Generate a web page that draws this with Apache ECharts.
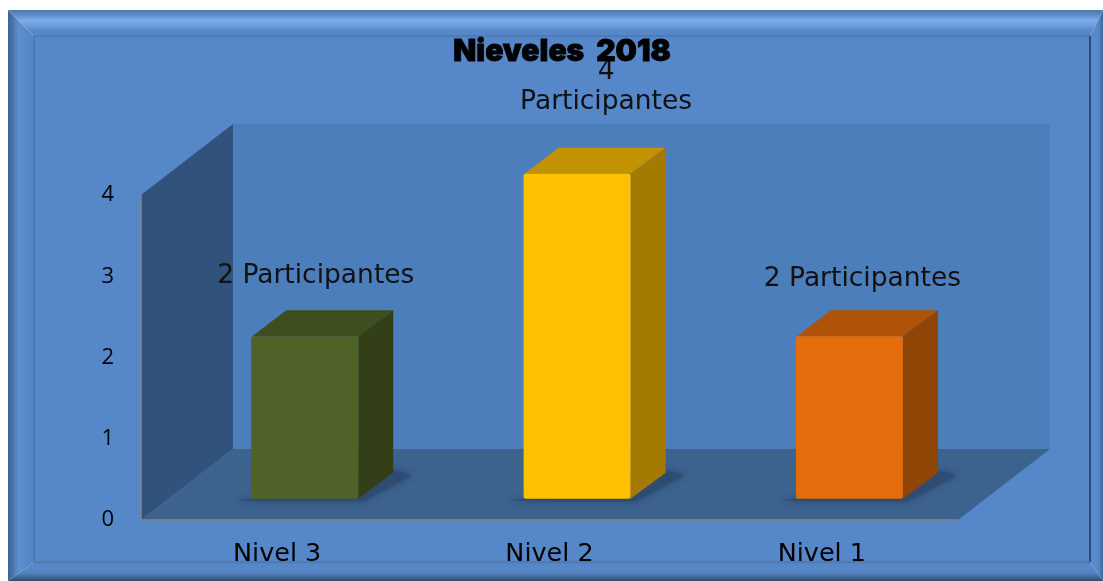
<!DOCTYPE html>
<html><head><meta charset="utf-8">
<style>html,body{margin:0;padding:0;background:#fff}#c{width:1103px;height:581px}</style>
<script src="https://cdn.jsdelivr.net/npm/echarts@6/dist/echarts.min.js"></script>
</head><body><div id="c"></div>
<script>
const categories = ['Nivel 3', 'Nivel 2', 'Nivel 1'];
const values = [2, 4, 2];
const valueTicks = [0, 1, 2, 3, 4];
const dataLabels = ['2 Participantes', '4\nParticipantes', '2 Participantes'];
const titleText = 'Nieveles  2018';
const frontColors = ['#4f6228', '#ffc000', '#e46c0a'];
const topColors = ['#3f4e1f', '#c29200', '#b05308'];
const sideColors = ['#333f17', '#a37b00', '#8f4506'];

const chart = echarts.init(document.getElementById('c'), null, {renderer: 'canvas'});
const DX = 92, DY = -71;            // full floor depth
const BAR_W = 107, BAR_F = 0.30;    // bar placement in depth
const LABEL_FONT = 'DejaVu Sans';
const labelOffsets = [[11, -60], [29, -87], [13, -57]];

function poly(points, fill, extra) {
  return Object.assign({type: 'polygon', shape: {points}, style: {fill}}, extra || {});
}
function walls(params, api) {
  const y0 = api.coord([0, 0])[1];
  const gs = params.coordSys;
  const x1 = gs.x + gs.width, yt = api.coord([0, 4])[1], xl = gs.x;
  return {type: 'group', silent: true, children: [
    poly([[xl, yt], [xl + DX, yt + DY], [xl + DX, y0 + DY], [xl, y0]], '#31527a'),
    poly([[xl + DX, yt + DY], [x1 + DX, yt + DY], [x1 + DX, y0 + DY], [xl + DX, y0 + DY]], '#4d7ebc'),
    poly([[xl, y0], [xl + DX, y0 + DY], [x1 + DX, y0 + DY], [x1, y0]], '#3c628e'),
    {type: 'line', shape: {x1: xl, y1: yt, x2: xl, y2: y0}, style: {stroke: '#868686', lineWidth: 1.5}},
    {type: 'line', shape: {x1: xl, y1: y0, x2: x1, y2: y0}, style: {stroke: '#868686', lineWidth: 1.5}}
  ]};
}
function bar3d(params, api) {
  const i = params.dataIndex;
  const cat = api.value(0), v = api.value(1);
  const base = api.coord([cat, 0]), top = api.coord([cat, v]);
  const fx = base[0] - BAR_W / 2 + DX * BAR_F, fy = DY * BAR_F;
  const l = fx, r = fx + BAR_W, b = base[1] + fy, t = top[1] + fy;
  const sx = 35, sy = -26;
  return {type: 'group', children: [
    poly([[l - 16, b + 2], [r + 4, b + 2], [r + sx + 18, b + sy + 2], [r + sx, b + sy - 1], [l, b]], '#2e4c72',
      {style: {fill: '#2e4c72', shadowBlur: 6, shadowColor: 'rgba(30,50,80,0.8)'}}),
    poly([[l + 1, t], [l + sx, t + sy], [r + sx, t + sy], [r, t]], topColors[i]),
    poly([[r, t], [r + sx, t + sy], [r + sx, b + sy], [r, b]], sideColors[i]),
    {type: 'rect', shape: {x: l, y: t, width: BAR_W, height: b - t, r: 2}, style: {fill: frontColors[i]}},
    {type: 'text', z2: 30, style: {
      x: (l + r) / 2 + labelOffsets[i][0], y: t + labelOffsets[i][1], text: dataLabels[i],
      align: 'center', verticalAlign: 'middle', fill: '#111', lineHeight: 30,
      font: '26.5px "' + LABEL_FONT + '"'}}
  ]};
}

const frameL = 8, frameT = 10, frameR = 1103, frameB = 581, inL = 34, inT = 36, inR = 1090, inB = 562;
const grad = (x, y, x2, y2, stops) => ({type: 'linear', x, y, x2, y2, colorStops: stops.map((c, k) => ({offset: k / (stops.length - 1), color: c}))});

chart.setOption({
  animation: false,
  backgroundColor: '#ffffff',
  textStyle: {fontFamily: LABEL_FONT},
  title: {text: titleText, left: 557, top: 32, textAlign: 'center', z: 20,
    textStyle: {fontFamily: 'Inter', fontWeight: 900, fontSize: 30, color: '#000', textBorderColor: '#000', textBorderWidth: 0.8}},
  grid: {left: 141, top: 195, width: 817, height: 325},
  xAxis: {type: 'category', data: categories, boundaryGap: true, axisLine: {show: false}, axisTick: {show: false},
    axisLabel: {color: '#000', fontFamily: LABEL_FONT, fontSize: 25.5, margin: 21, verticalAlign: 'top'}},
  yAxis: {type: 'value', min: valueTicks[0], max: valueTicks[valueTicks.length - 1], interval: 1,
    axisLine: {show: false}, axisTick: {show: false}, splitLine: {show: false},
    axisLabel: {color: '#000', fontFamily: 'Open Sans', fontSize: 22, margin: 27}},
  series: [
    {type: 'custom', silent: true, coordinateSystem: 'cartesian2d', renderItem: walls, data: [[0, 0]], z: 1},
    {type: 'custom', coordinateSystem: 'cartesian2d', renderItem: bar3d, z: 2,
      data: values.map((v, i) => [i, v]), encode: {x: 0, y: 1}}
  ],
  graphic: [
    {type: 'polygon', z: 10, silent: true, shape: {points: [[frameL, frameT], [frameR, frameT], [inR, inT], [inL, inT]]},
      style: {fill: grad(0, 0, 0, 1, ['#4a79b1', '#5c8dca', '#7eacec', '#6c9cdc', '#5587c9', '#5587c9'])}},
    {type: 'polygon', z: 10, silent: true, shape: {points: [[frameL, frameT], [inL, inT], [inL, inB], [frameL, frameB]]},
      style: {fill: grad(0, 0, 1, 0, ['#3f6390', '#4a76ad', '#5e90cf', '#5a8ccc', '#5587c9', '#5587c9'])}},
    {type: 'polygon', z: 10, silent: true, shape: {points: [[frameR, frameT], [inR, inT], [inR, inB], [frameR, frameB]]},
      style: {fill: grad(0, 0, 1, 0, ['#5587c9', '#5a8ccc', '#5587c9', '#3f6795'])}},
    {type: 'polygon', z: 15, silent: true, shape: {points: [[inL, inB], [inR, inB], [frameR, frameB], [frameL, frameB]]},
      style: {fill: grad(0, 0, 0, 1, ['#5a82b8', '#5587c9', '#5587c9', '#5380bc', '#43688f', '#2f4a6b'])}},
    {type: 'rect', z: 16, silent: true, shape: {x: inL, y: inT, width: inR - inL, height: inB - inT},
      style: {fill: 'none', stroke: '#4470a6', lineWidth: 1.2}},
    {type: 'line', z: 16, silent: true, shape: {x1: inR, y1: inT, x2: inR, y2: inB},
      style: {stroke: '#1f3f66', lineWidth: 1.5}},
    {type: 'rect', z: -10, silent: true, shape: {x: inL, y: inT, width: inR - inL, height: inB - inT},
      style: {fill: '#5587c9'}}
  ]
});
</script></body></html>
